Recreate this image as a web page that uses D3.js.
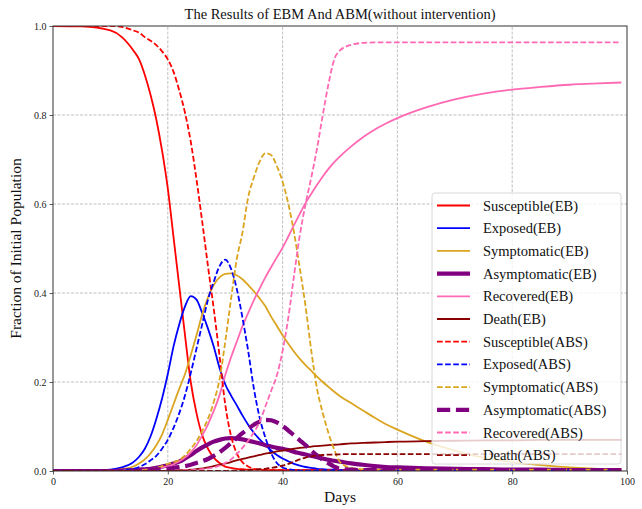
<!DOCTYPE html>
<html>
<head>
<meta charset="utf-8">
<script src="https://cdn.jsdelivr.net/npm/d3@7"></script>
<style>
  html, body { margin: 0; padding: 0; background: #fff; }
  svg { display: block; font-family: "Liberation Serif", "DejaVu Serif", serif; }
</style>
</head>
<body>
<svg id="chart" width="642" height="509"></svg>
<script>
// ── Data ────────────────────────────────────────────────────────────────────
const days = [0, 5, 10, 12, 14,
  15, 16, 17, 18, 19, 20, 21, 22, 23, 24,
  25, 26, 27, 28, 29, 30, 31, 32, 33, 34,
  35, 36, 37, 38, 39, 40, 41, 42, 43, 44,
  45, 46, 47, 48, 49, 50,
  52, 54, 56, 58, 60, 65, 70, 75, 80, 85, 90, 95, 99];

const compartments = ['Susceptible', 'Exposed', 'Symptomatic', 'Asymptomatic', 'Recovered', 'Death'];
const colors = ['#ff0000', '#0000ff', '#daa520', '#800080', '#ff69b4', '#8b0000'];

// EB (equation based) curves
const susceptibleEB = [1.0, 0.999, 0.99, 0.975, 0.945,
  0.925, 0.89, 0.845, 0.79, 0.72, 0.635, 0.525, 0.415, 0.305, 0.20,
  0.13, 0.08, 0.05, 0.03, 0.018, 0.01, 0.007, 0.005, 0.004, 0.003,
  0.003, 0.003, 0.002, 0.002, 0.002, 0.002, 0.002, 0.002, 0.002, 0.002,
  0.002, 0.002, 0.002, 0.002, 0.002, 0.002,
  0.002, 0.002, 0.002, 0.002, 0.001, 0.001, 0.001, 0.001, 0.001, 0.001, 0.001, 0.001, 0.001];
const exposedEB = [0, 0, 0.003, 0.008, 0.02,
  0.032, 0.05, 0.078, 0.117, 0.163, 0.218, 0.28, 0.33, 0.37, 0.393,
  0.385, 0.355, 0.32, 0.28, 0.232, 0.195, 0.17, 0.148, 0.125, 0.104,
  0.086, 0.071, 0.058, 0.046, 0.036, 0.028, 0.022, 0.016, 0.012, 0.009,
  0.007, 0.005, 0.004, 0.003, 0.003, 0.002,
  0.002, 0.001, 0.001, 0.001, 0.001, 0.001, 0.001, 0.001, 0.001, 0.001, 0.001, 0.001, 0.001];
const symptomaticEB = [0, 0, 0.001, 0.004, 0.01,
  0.017, 0.026, 0.04, 0.058, 0.082, 0.115, 0.15, 0.185, 0.218, 0.26,
  0.305, 0.352, 0.39, 0.418, 0.435, 0.443, 0.444, 0.44, 0.431, 0.418,
  0.404, 0.388, 0.37, 0.347, 0.326, 0.305, 0.286, 0.268, 0.252, 0.238,
  0.225, 0.212, 0.2, 0.189, 0.178, 0.168,
  0.152, 0.136, 0.12, 0.105, 0.093, 0.066, 0.046, 0.03, 0.02, 0.013, 0.008, 0.005, 0.004];
const asymptomaticEB = [0, 0, 0, 0.001, 0.002,
  0.003, 0.004, 0.005, 0.007, 0.01, 0.013, 0.017, 0.021, 0.028, 0.036,
  0.045, 0.053, 0.06, 0.066, 0.07, 0.073, 0.074, 0.073, 0.071, 0.068,
  0.065, 0.062, 0.058, 0.055, 0.052, 0.05, 0.047, 0.043, 0.04, 0.037,
  0.034, 0.031, 0.028, 0.025, 0.023, 0.021,
  0.017, 0.014, 0.011, 0.009, 0.008, 0.006, 0.005, 0.004, 0.003, 0.003, 0.002, 0.002, 0.002];
const recoveredEB = [0, 0, 0, 0.001, 0.002,
  0.002, 0.003, 0.004, 0.005, 0.008, 0.011, 0.015, 0.022, 0.03, 0.042,
  0.058, 0.08, 0.105, 0.135, 0.17, 0.215, 0.255, 0.29, 0.325, 0.355,
  0.384, 0.41, 0.435, 0.458, 0.48, 0.502, 0.527, 0.553, 0.578, 0.602,
  0.623, 0.643, 0.662, 0.679, 0.694, 0.707,
  0.73, 0.75, 0.767, 0.781, 0.793, 0.817, 0.835, 0.848, 0.857, 0.863, 0.868, 0.871, 0.873];
const deathEB = [0, 0, 0, 0, 0,
  0, 0, 0, 0, 0, 0.001, 0.001, 0.002, 0.002, 0.003,
  0.004, 0.006, 0.008, 0.011, 0.014, 0.017, 0.02, 0.024, 0.027, 0.03,
  0.033, 0.036, 0.039, 0.041, 0.044, 0.046, 0.048, 0.05, 0.052, 0.053,
  0.055, 0.056, 0.057, 0.058, 0.059, 0.06,
  0.062, 0.063, 0.064, 0.065, 0.066, 0.067, 0.068, 0.069, 0.069, 0.07, 0.07, 0.07, 0.07];

// ABS (agent based) curves
const susceptibleABS = [1.0, 1.0, 1.0, 0.998, 0.99,
  0.985, 0.975, 0.967, 0.957, 0.943, 0.925, 0.897, 0.855, 0.805, 0.74,
  0.655, 0.56, 0.46, 0.365, 0.26, 0.15, 0.08, 0.04, 0.02, 0.01,
  0.005, 0.003, 0.002, 0.002, 0.002, 0.002, 0.002, 0.002, 0.002, 0.002,
  0.002, 0.002, 0.002, 0.002, 0.002, 0.002,
  0.002, 0.002, 0.002, 0.002, 0.002, 0.002, 0.002, 0.002, 0.002, 0.002, 0.002, 0.002, 0.002];
const exposedABS = [0, 0, 0, 0.002, 0.005,
  0.009, 0.015, 0.024, 0.034, 0.05, 0.07, 0.097, 0.13, 0.17, 0.22,
  0.275, 0.33, 0.385, 0.425, 0.46, 0.475, 0.455, 0.41, 0.345, 0.27,
  0.185, 0.12, 0.075, 0.04, 0.018, 0.008, 0.004, 0.002, 0.001, 0.001,
  0.001, 0.001, 0.001, 0.001, 0.001, 0.001,
  0.001, 0.001, 0.001, 0.001, 0.001, 0.001, 0.001, 0.001, 0.001, 0.001, 0.001, 0.001, 0.001];
const symptomaticABS = [0, 0, 0, 0, 0.001,
  0.001, 0.002, 0.004, 0.007, 0.011, 0.016, 0.02, 0.025, 0.035, 0.05,
  0.067, 0.09, 0.117, 0.155, 0.205, 0.29, 0.385, 0.475, 0.535, 0.615,
  0.66, 0.695, 0.714, 0.71, 0.685, 0.65, 0.6, 0.535, 0.455, 0.37,
  0.27, 0.185, 0.13, 0.085, 0.048, 0.02,
  0.007, 0.004, 0.003, 0.003, 0.003, 0.003, 0.003, 0.003, 0.003, 0.003, 0.003, 0.003, 0.003];
const asymptomaticABS = [0, 0, 0, 0, 0,
  0.001, 0.001, 0.002, 0.003, 0.004, 0.005, 0.007, 0.009, 0.011, 0.014,
  0.018, 0.022, 0.027, 0.034, 0.042, 0.052, 0.063, 0.074, 0.085, 0.095,
  0.104, 0.111, 0.115, 0.114, 0.109, 0.101, 0.091, 0.08, 0.069, 0.058,
  0.046, 0.035, 0.025, 0.017, 0.01, 0.005,
  0.003, 0.002, 0.002, 0.002, 0.002, 0.002, 0.002, 0.002, 0.002, 0.002, 0.002, 0.002, 0.002];
const recoveredABS = [0, 0, 0, 0, 0,
  0, 0, 0, 0, 0, 0, 0.001, 0.001, 0.002, 0.002,
  0.003, 0.004, 0.006, 0.008, 0.012, 0.018, 0.026, 0.038, 0.052, 0.068,
  0.087, 0.11, 0.145, 0.18, 0.215, 0.27, 0.345, 0.44, 0.53, 0.6,
  0.66, 0.725, 0.8, 0.87, 0.925, 0.945,
  0.958, 0.962, 0.963, 0.963, 0.963, 0.963, 0.963, 0.963, 0.963, 0.963, 0.963, 0.963, 0.963];
const deathABS = [0, 0, 0, 0, 0,
  0, 0, 0, 0, 0, 0, 0, 0, 0, 0,
  0, 0, 0, 0, 0, 0, 0.001, 0.001, 0.001, 0.002,
  0.003, 0.004, 0.005, 0.007, 0.009, 0.012, 0.016, 0.021, 0.026, 0.03,
  0.033, 0.035, 0.036, 0.037, 0.037, 0.0375,
  0.038, 0.038, 0.038, 0.038, 0.038, 0.038, 0.038, 0.038, 0.038, 0.038, 0.038, 0.038, 0.038];

const xTicks = [0, 20, 40, 60, 80, 100];
const yTicks = [0.0, 0.2, 0.4, 0.6, 0.8, 1.0];

const ebSeries = [susceptibleEB, exposedEB, symptomaticEB, asymptomaticEB, recoveredEB, deathEB];
const absSeries = [susceptibleABS, exposedABS, symptomaticABS, asymptomaticABS, recoveredABS, deathABS];

// ── Layout ─────────────────────────────────────────────────────────────────
const margin = { left: 53, right: 15, top: 26, bottom: 38 };
const W = 642, H = 509;
const plotW = W - margin.left - margin.right;
const plotH = H - margin.top - margin.bottom;

const svg = d3.select('#chart');
const x = d3.scaleLinear().domain([0, 100]).range([margin.left, margin.left + plotW]);
const y = d3.scaleLinear().domain([0, 1]).range([margin.top + plotH, margin.top]);

// Build the 12 line descriptors: EB solid first, then ABS dashed
const lines = [];
ebSeries.forEach(function (vals, i) {
  lines.push({ label: compartments[i] + '(EB)', color: colors[i], values: vals, dashed: false, width: i === 3 ? 4.2 : 1.8 });
});
absSeries.forEach(function (vals, i) {
  lines.push({ label: compartments[i] + '(ABS)', color: colors[i], values: vals, dashed: true, width: i === 3 ? 4.2 : 1.8 });
});

function dashFor(l) {
  return l.dashed ? [3.7 * l.width * 0.85, 1.6 * l.width * 0.85].join(',') : null;
}

// ── Grid ───────────────────────────────────────────────────────────────────
const grid = svg.append('g').attr('class', 'grid');
grid.selectAll('line.gx')
  .data(xTicks.slice(1, -1))
  .join('line')
    .attr('x1', d => x(d)).attr('x2', d => x(d))
    .attr('y1', y(0)).attr('y2', y(1))
    .attr('stroke', '#b0b0b0').attr('stroke-width', 0.8)
    .attr('stroke-dasharray', '3,1.5');
grid.selectAll('line.gy')
  .data(yTicks.slice(1, -1))
  .join('line')
    .attr('x1', x(0)).attr('x2', x(100))
    .attr('y1', d => y(d)).attr('y2', d => y(d))
    .attr('stroke', '#b0b0b0').attr('stroke-width', 0.8)
    .attr('stroke-dasharray', '3,1.5');

// ── Curves ─────────────────────────────────────────────────────────────────
svg.append('clipPath').attr('id', 'clip')
  .append('rect')
    .attr('x', margin.left).attr('y', margin.top)
    .attr('width', plotW).attr('height', plotH);

const lineGen = d3.line()
  .x((d, i) => x(days[i]))
  .y(d => y(d))
  .curve(d3.curveMonotoneX);

svg.append('g').attr('clip-path', 'url(#clip)')
  .selectAll('path')
  .data(lines)
  .join('path')
    .attr('fill', 'none')
    .attr('stroke', d => d.color)
    .attr('stroke-width', d => d.width)
    .attr('stroke-dasharray', d => dashFor(d))
    .attr('d', d => lineGen(d.values));

// ── Axes ───────────────────────────────────────────────────────────────────
const xAxis = svg.append('g')
  .attr('transform', `translate(0,${y(0)})`)
  .call(d3.axisBottom(x).tickValues(xTicks).tickFormat(d3.format('d')).tickSizeOuter(0).tickSize(3.5).tickPadding(3));
const yAxis = svg.append('g')
  .attr('transform', `translate(${x(0)},0)`)
  .call(d3.axisLeft(y).tickValues(yTicks).tickFormat(d3.format('.1f')).tickSizeOuter(0).tickSize(3.5).tickPadding(3));

[xAxis, yAxis].forEach(function (a) {
  a.select('.domain').remove();
  a.selectAll('text').attr('font-family', '"Liberation Serif", serif').attr('font-size', 10).attr('fill', '#222');
  a.selectAll('line').attr('stroke', '#333').attr('stroke-width', 0.8);
});

// frame
svg.append('rect')
  .attr('x', margin.left).attr('y', margin.top)
  .attr('width', plotW).attr('height', plotH)
  .attr('fill', 'none').attr('stroke', '#333').attr('stroke-width', 1);

// ── Titles ─────────────────────────────────────────────────────────────────
svg.append('text')
  .attr('x', margin.left + plotW / 2).attr('y', 19)
  .attr('text-anchor', 'middle').attr('font-size', 14.5).attr('fill', '#111')
  .text('The Results of EBM And ABM(without intervention)');

svg.append('text')
  .attr('x', margin.left + plotW / 2).attr('y', 502)
  .attr('text-anchor', 'middle').attr('font-size', 15.5).attr('fill', '#111')
  .text('Days');

svg.append('text')
  .attr('transform', `translate(21,${margin.top + plotH / 2}) rotate(-90)`)
  .attr('text-anchor', 'middle').attr('font-size', 15.5).attr('fill', '#111')
  .text('Fraction of Initial Population');

// ── Legend ─────────────────────────────────────────────────────────────────
const legend = svg.append('g').attr('transform', 'translate(432,193)');
legend.append('rect')
  .attr('width', 189).attr('height', 271).attr('rx', 3)
  .attr('fill', 'rgba(255,255,255,0.8)').attr('stroke', '#d8d8d8').attr('stroke-width', 1);

const item = legend.selectAll('g.item')
  .data(lines)
  .join('g')
    .attr('class', 'item')
    .attr('transform', (d, i) => `translate(0,${12.5 + i * 22.7})`);

item.append('line')
  .attr('x1', 5).attr('x2', 38)
  .attr('stroke', d => d.color)
  .attr('stroke-width', d => d.width)
  .attr('stroke-dasharray', d => dashFor(d));

item.append('text')
  .attr('x', 51).attr('dy', '0.35em')
  .attr('font-size', 14.5).attr('fill', '#111')
  .text(d => d.label);
</script>
</body>
</html>
